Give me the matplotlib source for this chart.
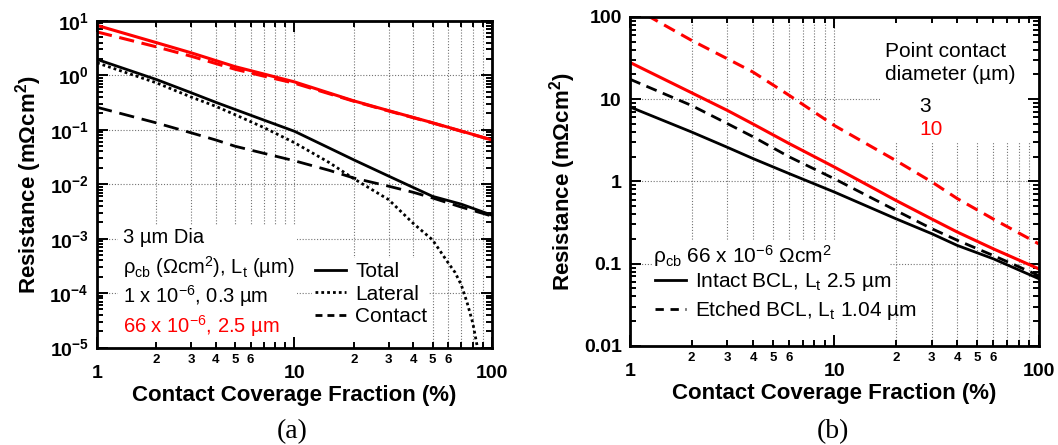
import matplotlib
matplotlib.use("Agg")
import matplotlib.pyplot as plt
from matplotlib.patches import Rectangle
from matplotlib.lines import Line2D

plt.rcParams['font.family'] = ['Liberation Sans', 'DejaVu Sans']
plt.rcParams['mathtext.fontset'] = 'custom'
plt.rcParams['mathtext.rm'] = 'Liberation Sans'
plt.rcParams['mathtext.it'] = 'Liberation Sans:italic'
plt.rcParams['mathtext.bf'] = 'Liberation Sans:bold'
plt.rcParams['mathtext.default'] = 'regular'

# ---- panel (a): 3 um point contact, contact coverage fraction (%) ----
cov_a = [1, 2, 3, 4, 5, 7, 10, 15, 20, 30, 40, 50, 70, 100]
total_1e6 = [1.97, 0.84, 0.48, 0.32, 0.237, 0.151, 0.094, 0.0463, 0.028,
             0.0141, 0.0087, 0.006, 0.0043, 0.0027]
contact_1e6 = [0.26, 0.134, 0.088, 0.065, 0.05, 0.037, 0.027, 0.018, 0.013,
               0.0092, 0.0071, 0.0056, 0.0038, 0.0026]
cov_lat = [1, 2, 3, 4, 5, 7, 10, 15, 20, 30, 40, 50, 60, 65, 70, 75, 80, 84, 87]
lateral_1e6 = [1.7, 0.73, 0.4, 0.27, 0.19, 0.11, 0.058, 0.025, 0.0126, 0.0052,
               0.0019, 0.00095, 0.00036, 0.00024, 0.00014, 6.5e-5, 2.8e-5,
               1.1e-5, 5e-6]
cov_red = [1, 2, 3, 5, 7, 10, 20, 30, 50, 70, 100]
total_66e6 = [8.3, 4.0, 2.6, 1.45, 1.06, 0.76, 0.34, 0.225, 0.135, 0.095, 0.065]
contact_66e6 = [6.3, 3.35, 2.25, 1.3, 0.97, 0.72, 0.335, 0.222, 0.134, 0.094, 0.065]

# ---- panel (b): rho_cb 66e-6, intact vs etched BCL ----
cov_b = [1, 2, 3, 4, 6, 10, 20, 30, 40, 60, 100]
intact_3 = [8.05, 4.0, 2.6, 1.9, 1.25, 0.745, 0.353, 0.232, 0.167, 0.115, 0.066]
etched_3 = [17.5, 8.4, 5.05, 3.5, 2.0, 1.08, 0.445, 0.267, 0.193, 0.126, 0.072]
intact_10 = [28, 12.0, 7.3, 5.0, 2.9, 1.5, 0.59, 0.35, 0.243, 0.152, 0.087]
etched_10 = [137, 52, 31, 21.4, 11.2, 4.8, 1.8, 0.99, 0.62, 0.35, 0.175]

major_x = [1, 10, 100]
major_x_labels = ['1', '10', '100']
minor_x = [2, 3, 4, 5, 6, 7, 8, 9, 20, 30, 40, 50, 60, 70, 80, 90]
minor_x_labels = ['2', '3', '4', '5', '6', '', '', ''] * 2

RED = '#ff0000'
GRID = dict(color='0.45', lw=0.8, ls=(0, (1, 1.6)))

fig = plt.figure(figsize=(10.58, 4.45), dpi=100)


def make_axes(pos, ylo, yhi, yticks, ylabels):
    # background axes only carries the dotted grid, so white boxes can hide it
    bg = fig.add_axes(pos, zorder=0)
    ax = fig.add_axes(pos, zorder=1)
    for a in (bg, ax):
        a.set_xscale('log')
        a.set_yscale('log')
        a.set_xlim(1, 100)
        a.set_ylim(ylo, yhi)
    bg.set_xticks(major_x)
    bg.set_xticks(minor_x, minor=True)
    bg.set_yticks(yticks)
    bg.yaxis.set_minor_locator(matplotlib.ticker.NullLocator())
    bg.grid(which='major', **GRID)
    bg.grid(which='minor', axis='x', **GRID)
    bg.tick_params(which='both', length=0, labelleft=False, labelbottom=False)
    for s in bg.spines.values():
        s.set_visible(False)

    ax.patch.set_alpha(0)
    ax.set_xticks(major_x, major_x_labels, fontsize=14, fontweight='bold')
    ax.set_xticks(minor_x, minor_x_labels, minor=True, fontsize=9.5,
                  fontweight='bold')
    ax.set_yticks(yticks, ylabels, fontsize=14, fontweight='bold')
    yminor = [k * t for t in yticks[:-1] for k in range(2, 10)]
    ax.set_yticks(yminor, minor=True)
    ax.yaxis.set_minor_formatter(matplotlib.ticker.NullFormatter())
    ax.tick_params(which='both', direction='in', top=True, right=True,
                   width=1.4)
    ax.tick_params(which='major', length=8)
    ax.tick_params(which='minor', length=4)
    ax.tick_params(axis='x', which='major', pad=12.5)
    ax.tick_params(axis='x', which='minor', pad=4.5)
    ax.tick_params(axis='y', which='major', pad=6)
    for s in ax.spines.values():
        s.set_linewidth(2)
    ax.set_xlabel('Contact Coverage Fraction (%)', fontsize=16,
                  fontweight='bold', labelpad=2)
    ax.set_ylabel(r'Resistance (mΩcm$^{\mathbf{2}}$)', fontsize=16,
                  fontweight='bold')
    return ax


def white_box(ax, x0, y0, x1, y1):
    ax.add_patch(Rectangle((x0, y0), x1 - x0, y1 - y0, transform=ax.transAxes,
                           facecolor='white', edgecolor='none', zorder=0.5))


# ---------------- (a) ----------------
ya = [1e-5, 1e-4, 1e-3, 1e-2, 1e-1, 1, 10]
ya_lab = [r'$\mathbf{10^{%d}}$' % e for e in range(-5, 2)]
axa = make_axes([0.0917, 0.2191, 0.3733, 0.7337], 1e-5, 10, ya, ya_lab)

axa.plot(cov_red, total_66e6, color=RED, lw=2.2)
axa.plot(cov_red, contact_66e6, color=RED, lw=2.2, dashes=(5, 2.5))
axa.plot(cov_a, total_1e6, color='k', lw=2.0)
axa.plot(cov_lat, lateral_1e6, color='k', lw=2.0, dashes=(1, 1.1))
axa.plot(cov_a, contact_1e6, color='k', lw=2.0, dashes=(5.5, 2.8))

white_box(axa, 0.053, 0.0, 0.506, 0.375)
white_box(axa, 0.545, 0.0, 0.838, 0.274)

fs = 14.5
axa.text(0.065, 0.321, '3 µm Dia', transform=axa.transAxes, fontsize=fs)
axa.text(0.065, 0.2266,
         r'ρ$_{cb}$ (Ωcm$^{2}$), L$_{t}$ (µm)',
         transform=axa.transAxes, fontsize=fs)
axa.text(0.065, 0.1354, r'1 x 10$^{-6}$, 0.3 µm', transform=axa.transAxes,
         fontsize=fs)
axa.text(0.065, 0.0435, r'66 x 10$^{-6}$, 2.5 µm', transform=axa.transAxes,
         fontsize=fs, color=RED)

handles_a = [Line2D([], [], color='k', lw=2.0),
             Line2D([], [], color='k', lw=2.0, dashes=(1, 1.1)),
             Line2D([], [], color='k', lw=2.0, dashes=(2.5, 1.8))]
axa.legend(handles_a, ['Total', 'Lateral', 'Contact'], loc='upper left',
           bbox_to_anchor=(0.552, 0.262), frameon=False, fontsize=15,
           handlelength=1.5, handletextpad=0.42, labelspacing=0.18,
           borderpad=0, borderaxespad=0)

# ---------------- (b) ----------------
yb = [0.01, 0.1, 1, 10, 100]
yb_lab = ['0.01', '0.1', '1', '10', '100']
axb = make_axes([0.5955, 0.2225, 0.3861, 0.7393], 0.01, 100, yb, yb_lab)

axb.plot(cov_b, etched_10, color=RED, lw=2.2, dashes=(4, 2.4))
axb.plot(cov_b, intact_10, color=RED, lw=2.2)
axb.plot(cov_b, etched_3, color='k', lw=2.0, dashes=(4, 2.4))
axb.plot(cov_b, intact_3, color='k', lw=2.0)

white_box(axb, 0.612, 0.62, 1.0, 1.0)
white_box(axb, 0.057, 0.0, 0.6365, 0.322)

fs = 15
axb.text(0.624, 0.8775, 'Point contact', transform=axb.transAxes, fontsize=fs)
axb.text(0.624, 0.8085, 'diameter (µm)', transform=axb.transAxes, fontsize=fs)
axb.text(0.7087, 0.712, '3', transform=axb.transAxes, fontsize=fs)
axb.text(0.7087, 0.641, '10', transform=axb.transAxes, fontsize=fs, color=RED)
axb.text(0.057, 0.253, r'ρ$_{cb}$ 66 x 10$^{-6}$ Ωcm$^{2}$',
         transform=axb.transAxes, fontsize=fs)

handles_b = [Line2D([], [], color='k', lw=2.0),
             Line2D([], [], color='k', lw=2.0, dashes=(3, 2.4))]
axb.legend(handles_b, [r'Intact BCL, L$_{t}$ 2.5 µm',
                       r'Etched BCL, L$_{t}$ 1.04 µm'],
           loc='upper left', bbox_to_anchor=(0.061, 0.228), frameon=False,
           fontsize=fs, handlelength=1.5, handletextpad=0.42,
           labelspacing=0.3, borderpad=0, borderaxespad=0)

fig.text(292 / 1058, 1 - 432 / 445, '(a)', fontsize=20, ha='center',
         va='center', family='Liberation Serif')
fig.text(833 / 1058, 1 - 432 / 445, '(b)', fontsize=20, ha='center',
         va='center', family='Liberation Serif')

fig.savefig('out.png', dpi=100)
